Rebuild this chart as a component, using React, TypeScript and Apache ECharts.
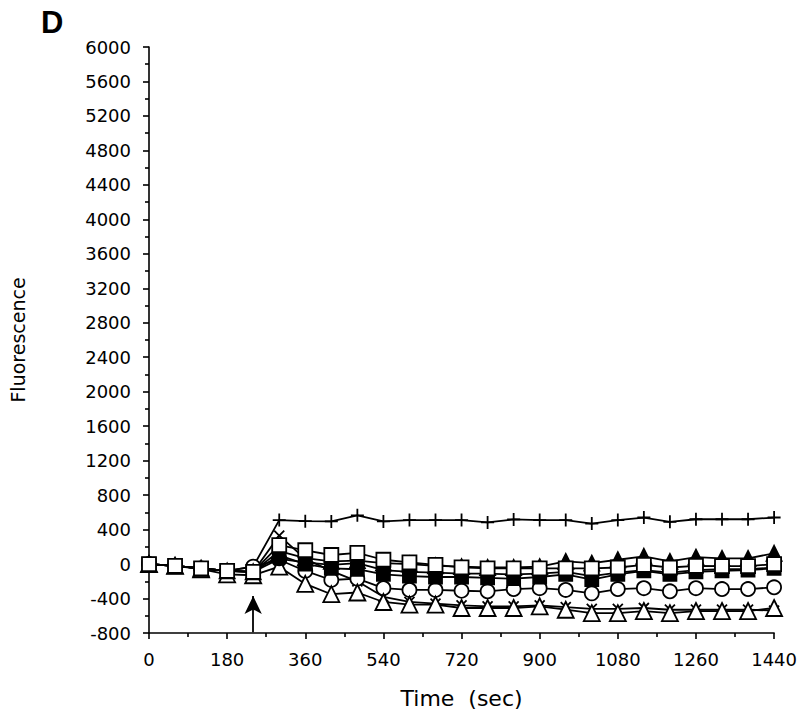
import React, { useEffect, useRef } from "react";
import * as echarts from "echarts";

const times = [0, 60, 120, 180, 240, 300, 360, 420, 480, 540, 600, 660, 720, 780, 840, 900, 960, 1020, 1080, 1140, 1200, 1260, 1320, 1380, 1440];

const plusSeries = [0, -20, -50, -80, -30, 510, 498, 495, 565, 495, 510, 510, 510, 483, 518, 510, 510, 470, 510, 540, 490, 520, 520, 520, 540];
const crossSeries = [0, -20, -50, -80, -90, 330, 60, -80, -200, -380, -440, -460, -480, -490, -490, -480, -500, -520, -520, -510, -530, -530, -530, -530, -540];
const openSquares = [0, -20, -50, -80, -90, 220, 160, 105, 130, 50, 20, -10, -38, -50, -50, -50, -50, -50, -40, -10, -40, -20, -25, -25, 0];
const filledTriangles = [0, -20, -50, -80, -90, 150, 70, 30, 40, 10, 0, -20, -30, -40, -40, -30, 30, 10, 50, 90, 30, 80, 65, 65, 125];
const filledCircles = [0, -20, -50, -80, -90, 60, 20, -10, 10, -70, -90, -100, -110, -110, -120, -110, -90, -140, -100, -70, -100, -70, -60, -60, -40];
const filledSquares = [0, -20, -50, -80, -90, 100, 0, -50, -60, -120, -140, -150, -150, -160, -170, -150, -120, -180, -120, -80, -120, -90, -80, -70, -50];
const openCircles = [0, -20, -50, -80, -30, 50, -80, -185, -170, -280, -300, -300, -310, -316, -290, -280, -300, -340, -290, -280, -316, -280, -290, -290, -270];
const openTriangles = [0, -20, -60, -120, -130, -30, -230, -350, -330, -440, -470, -470, -510, -510, -510, -490, -530, -570, -570, -545, -570, -545, -545, -545, -510];

const yTicks = { min: -800, max: 6000, interval: 400 };
const xTicks = { min: 0, max: 1440, interval: 180 };
const arrowAt = { time: 240, from: -790, to: -370 };

const FONT = "'DejaVu Sans', 'Liberation Sans', Arial, sans-serif";

function pairs(vals: number[]) {
  return vals.map((v, i) => [times[i], v]);
}

export default function App() {
  const ref = useRef<HTMLDivElement>(null);
  useEffect(() => {
    document.body.style.margin = "0";
    if (!ref.current) return;
    const chart = echarts.init(ref.current, undefined, { renderer: "svg" });
    const mk = (
      name: string,
      vals: number[],
      symbol: string,
      size: number | number[],
      fill: string,
      z: number
    ) => ({
      name,
      type: "line",
      data: pairs(vals),
      symbol,
      symbolSize: size,
      showAllSymbol: true,
      z,
      lineStyle: { color: "#000", width: 1.8 },
      itemStyle: { color: fill, borderColor: "#000", borderWidth: 1.8 },
      emphasis: { disabled: true },
    });
    chart.setOption({
      animation: false,
      backgroundColor: "#fff",
      grid: { left: 146, right: 25, top: 47, bottom: 79 },
      title: {
        text: "D",
        left: 36,
        top: 2,
        textStyle: { fontFamily: "'Liberation Sans', Arial, sans-serif", fontSize: 31, fontWeight: "bold", color: "#000" },
      },
      xAxis: {
        type: "value",
        min: xTicks.min,
        max: xTicks.max,
        interval: xTicks.interval,
        name: "Time  (sec)",
        nameLocation: "middle",
        nameGap: 54,
        nameTextStyle: { fontFamily: FONT, fontSize: 22, color: "#000" },
        axisLine: { show: true, onZero: false, lineStyle: { color: "#000", width: 1.6 } },
        axisTick: { show: true, length: 6, lineStyle: { color: "#000", width: 1.6 } },
        minorTick: { show: true, splitNumber: 2, length: 4, lineStyle: { color: "#000", width: 1.6 } },
        axisLabel: { fontFamily: FONT, fontSize: 18, color: "#000", margin: 17, formatter: (v: number) => String(v) },
        splitLine: { show: false },
      },
      yAxis: {
        type: "value",
        min: yTicks.min,
        max: yTicks.max,
        interval: yTicks.interval,
        name: "Fluorescence",
        nameLocation: "middle",
        nameGap: 122,
        nameRotate: 90,
        nameTextStyle: { fontFamily: FONT, fontSize: 19, color: "#000" },
        axisLine: { show: true, lineStyle: { color: "#000", width: 1.6 } },
        axisTick: { show: true, length: 6, lineStyle: { color: "#000", width: 1.6 } },
        minorTick: { show: true, splitNumber: 2, length: 4, lineStyle: { color: "#000", width: 1.6 } },
        axisLabel: { fontFamily: FONT, fontSize: 18, color: "#000", margin: 18, formatter: (v: number) => String(v) },
        splitLine: { show: false },
      },
      series: [
        mk("plus", plusSeries, "path://M5,0L5,10M0,5L10,5", 13, "#000", 2),
        mk("cross", crossSeries, "path://M0,0L10,10M10,0L0,10", 10, "#000", 3),
        mk("open circles", openCircles, "circle", 14, "#fff", 4),
        mk("open triangles", openTriangles, "triangle", 16, "#fff", 5),
        mk("filled squares", filledSquares, "rect", 13, "#000", 6),
        mk("filled circles", filledCircles, "circle", 13, "#000", 7),
        mk("filled triangles", filledTriangles, "triangle", 15, "#000", 8),
        {
          ...mk("open squares", openSquares, "rect", 14, "#fff", 9),
          markLine: {
            silent: true,
            symbol: ["none", "arrow"],
            symbolSize: [13, 18],
            label: { show: false },
            lineStyle: { color: "#000", width: 1.8, type: "solid" },
            data: [[{ coord: [arrowAt.time, arrowAt.from] }, { coord: [arrowAt.time, arrowAt.to] }]],
          },
        },
      ],
    });
    return () => chart.dispose();
  }, []);
  return <div ref={ref} style={{ width: 800, height: 714 }} />;
}
